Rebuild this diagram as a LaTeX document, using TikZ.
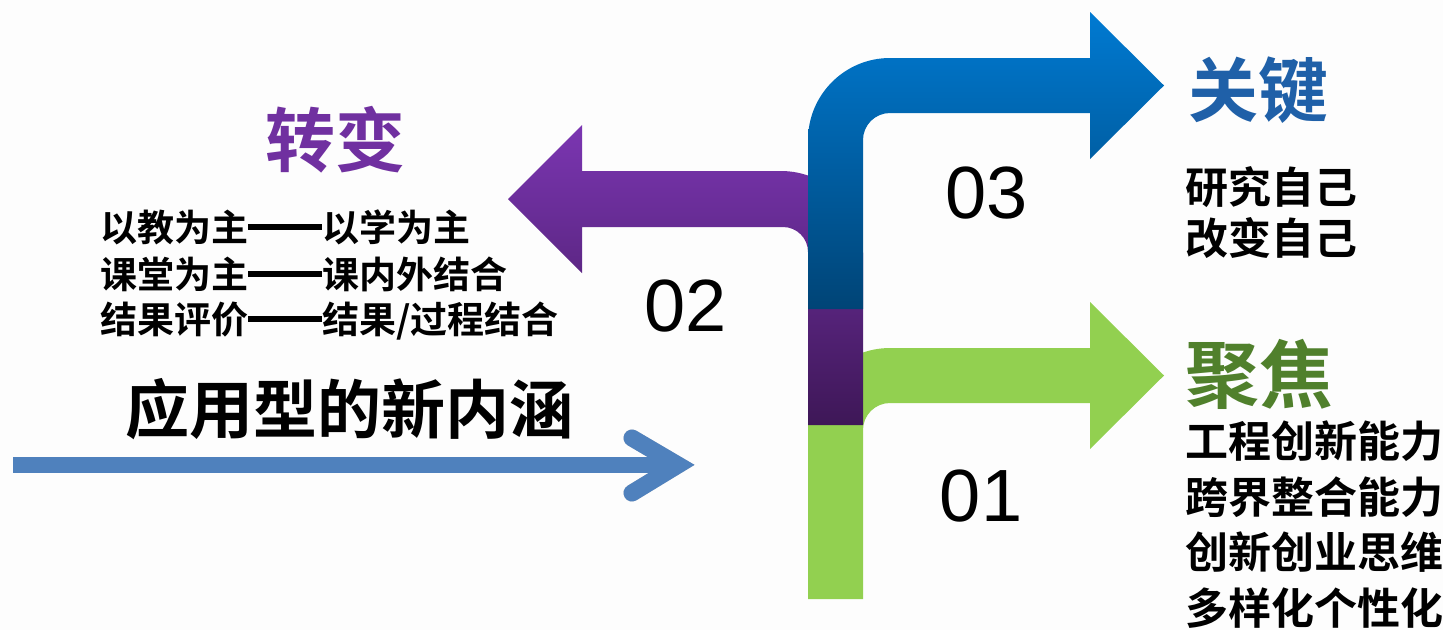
\documentclass[tikz,border=0pt]{standalone}
\usepackage{fontspec}
\newfontfamily\cjk{Noto Sans CJK SC}[BoldFont={Noto Sans CJK SC Bold}]
\newfontfamily\digits{Liberation Sans}
\newcommand\mydash{\rule[0.30em]{2em}{0.16em}}
\definecolor{bgc}{RGB}{253,253,253}
\definecolor{lineblue}{RGB}{79,129,189}
\definecolor{arrgreen}{RGB}{146,208,80}
\definecolor{ptitle}{RGB}{112,48,160}
\definecolor{btitle}{RGB}{31,96,168}
\definecolor{gtitle}{RGB}{80,128,44}
\tikzset{
  cjktext/.style={inner sep=0pt, font=\cjk\bfseries\fontsize{#1}{#1}\selectfont},
  numtext/.style={inner sep=0pt, font=\digits\fontsize{74}{74}\selectfont},
}
\begin{document}
\begin{tikzpicture}[x=1pt,y=-1pt]
\useasboundingbox (0,0) rectangle (1443,630);
\fill[bgc] (0,0) rectangle (1443,630);

% green arrow (01)
\fill[arrgreen] (808,599) -- (808,430) .. controls (808,384.7) and (844.7,348) .. (890,348)
  -- (1090,348) -- (1090,302) -- (1164,375.5) -- (1090,449) -- (1090,403) -- (890,403)
  .. controls (875.1,403) and (863,415.1) .. (863,430) -- (863,599) -- cycle;
\fill[arrgreen] (808,415) rectangle (863,599);

% purple arrow (02)
\shade[top color={rgb,255:red,123;green,54;blue,178}, middle color={rgb,255:red,106;green,44;blue,155}, bottom color={rgb,255:red,62;green,23;blue,87}]
  (808,425) -- (808,252) .. controls (808,238.2) and (796.8,227) .. (783,227)
  -- (582,227) -- (582,273) -- (508,199) -- (582,125) -- (582,171) -- (781,171)
  .. controls (826.3,171) and (863,207.7) .. (863,253) -- (863,425) -- cycle;

% blue arrow (03)
\shade[top color={rgb,255:red,0;green,122;blue,210}, middle color={rgb,255:red,0;green,106;blue,184}, bottom color={rgb,255:red,0;green,68;blue,118}]
  (808,309) -- (808,140) .. controls (808,94.7) and (844.7,58) .. (890,58)
  -- (1090,58) -- (1090,12) -- (1164,85.5) -- (1090,159) -- (1090,113) -- (890,113)
  .. controls (875.1,113) and (863,125.1) .. (863,140) -- (863,309) -- cycle;

% long arrow with shadow
\coordinate (ls) at (13,465);
\coordinate (le) at (680,465);
\coordinate (ca) at (632,438);
\coordinate (cv) at (678,465);
\coordinate (cb) at (632,493);
\begin{scope}[shift={(2,3)}, opacity=0.18]
  \draw[black, line width=16] (ls) -- (le);
  \draw[black, line width=17, line cap=round, line join=miter] (ca) -- (cv) -- (cb);
\end{scope}
\draw[lineblue, line width=16] (ls) -- (le);
\draw[lineblue, line width=17, line cap=round, line join=miter] (ca) -- (cv) -- (cb);

% texts left
\node[cjktext=70, text=ptitle] (zb) at (335,140) {转变};
\node[cjktext=37, anchor=west] (l1) at (100,227) {以教为主\mydash 以学为主};
\node[cjktext=37, anchor=west] (l2) at (100,274) {课堂为主\mydash 课内外结合};
\node[cjktext=37, anchor=west] (l3) at (100,321) {结果评价\mydash 结果/过程结合};
\node[cjktext=64] (main) at (349.5,409) {应用型的新内涵};

% numbers
\node[numtext] (n02) at (686,306.5) {02};
\node[numtext] (n03) at (987,193.5) {03};
\node[numtext] (n01) at (981,496.5) {01};

% texts right
\node[cjktext=70, text=btitle] (gj) at (1258,90.5) {关键};
\node[cjktext=43, anchor=west] (r1) at (1185,187) {研究自己};
\node[cjktext=43, anchor=west] (r2) at (1185,238) {改变自己};
\node[cjktext=74, text=gtitle] (jj) at (1259,374) {聚焦};
\node[cjktext=43, anchor=west] (g1) at (1185,441) {工程创新能力};
\node[cjktext=43, anchor=west] (g2) at (1185,497) {跨界整合能力};
\node[cjktext=43, anchor=west] (g3) at (1185,552) {创新创业思维};
\node[cjktext=43, anchor=west] (g4) at (1185,608) {多样化个性化};
\end{tikzpicture}
\end{document}
